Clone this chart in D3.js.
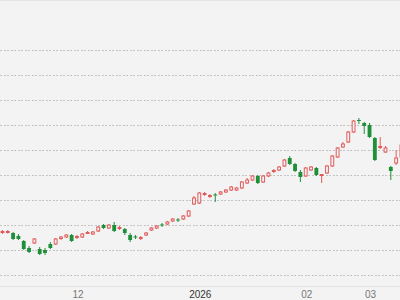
<!DOCTYPE html>
<html>
<head>
<meta charset="UTF-8"/>
<script src="https://d3js.org/d3.v7.min.js"></script>
<style>
  html, body { margin: 0; padding: 0; background: #f3f3f3; }
  svg { display: block; font-family: "Noto Sans", "DejaVu Sans", sans-serif; }
  .grid line { stroke: #c4c4c4; stroke-dasharray: 2,1.5; shape-rendering: crispEdges; }
  .xaxis text { fill: #777; font-size: 10px; }
  .xaxis text.year { fill: #333; }
</style>
</head>
<body>
<script>
  // daily candles, oldest first (price units)
  var opens  = [11.70,11.70,11.68,11.56,11.36,11.08,11.28,11.04,11.00,11.24,11.24,11.46,11.52,11.60,11.50,11.52,11.66,11.64,11.76,12.00,
                11.88,12.00,11.86,11.84,11.60,11.54,11.46,11.60,11.80,11.88,12.02,12.04,12.16,12.22,12.24,12.36,12.84,12.88,13.22,13.14,
                13.22,13.24,13.32,13.40,13.40,13.48,13.68,13.80,13.96,13.72,13.96,14.14,14.20,14.36,14.68,14.44,14.12,13.96,14.20,14.28,
                13.98,14.08,14.36,14.72,15.12,15.32,15.72,16.20,16.08,16.00,15.48,15.10,14.92,14.32,14.48,14.72];
  var highs  = [11.80,11.80,11.72,11.64,11.40,11.16,11.48,11.12,11.08,11.32,11.48,11.56,11.64,11.64,11.60,11.68,11.76,11.76,11.96,12.04,
                12.04,12.12,11.96,11.88,11.68,11.60,11.56,11.72,11.92,12.00,12.08,12.16,12.28,12.28,12.40,12.60,13.16,13.32,13.32,13.24,
                13.28,13.36,13.44,13.56,13.52,13.76,13.88,14.00,14.00,14.00,14.12,14.24,14.36,14.64,14.76,14.48,14.20,14.32,14.36,14.32,
                14.02,14.40,14.80,15.12,15.32,15.76,16.20,16.28,16.12,16.08,15.52,15.52,15.16,14.36,15.00,15.40];
  var lows   = [11.64,11.66,11.40,11.40,11.00,10.88,11.24,10.80,10.80,11.04,11.20,11.40,11.48,11.32,11.44,11.48,11.64,11.60,11.72,11.84,
                11.84,11.72,11.80,11.60,11.32,11.44,11.40,11.56,11.76,11.84,11.92,12.00,12.12,12.12,12.20,12.32,12.80,12.84,13.16,13.08,
                12.92,13.20,13.28,13.36,13.36,13.44,13.64,13.76,13.64,13.68,13.92,14.08,14.16,14.32,14.40,14.12,13.72,13.92,14.16,13.96,
                13.68,14.04,14.32,14.68,15.08,15.28,15.68,16.04,15.64,15.48,14.56,15.04,14.88,13.80,14.40,14.68];
  var closes = [11.74,11.74,11.44,11.44,11.04,10.92,11.44,10.84,10.88,11.08,11.44,11.52,11.60,11.36,11.54,11.64,11.70,11.72,11.92,11.88,
                12.00,11.76,11.90,11.68,11.40,11.50,11.50,11.68,11.88,11.96,11.98,12.12,12.24,12.18,12.36,12.56,13.08,13.28,13.26,13.18,
                13.18,13.32,13.40,13.52,13.48,13.72,13.80,13.96,13.68,13.96,14.08,14.18,14.32,14.60,14.44,14.16,13.92,14.28,14.32,14.00,
                14.02,14.36,14.76,15.08,15.24,15.72,16.16,16.16,15.96,15.52,14.60,15.14,15.08,14.16,14.68,15.20];

  // month labels sit on the first trading day of each month
  var tickIndex = [14, 37, 57, 69];
  var tickLabels = ["12", "2026", "02", "03"];
  var gridValues = [10, 11, 12, 13, 14, 15, 16, 17, 18, 19];

  var width = 400, height = 300;
  var upColor = "#e25b5b", downColor = "#1f8f3a";

  var candles = opens.map(function(o, i) {
    return {i: i, open: o, high: highs[i], low: lows[i], close: closes[i]};
  });

  var svg = d3.select("body").append("svg")
    .attr("width", width)
    .attr("height", height);

  var x = d3.scaleBand()
    .domain(d3.range(candles.length))
    .range([-0.2, -0.2 + candles.length * 5.32])
    .paddingInner(0.28)
    .paddingOuter(0.14);

  var y = d3.scaleLinear()
    .domain([9.5, 21])
    .range([287.5, 0]);

  svg.append("line")
    .attr("x1", 0).attr("x2", width)
    .attr("y1", 0.5).attr("y2", 0.5)
    .attr("stroke", "#e4e4e4");

  svg.append("g")
    .attr("class", "grid")
    .selectAll("line")
    .data(gridValues)
    .enter().append("line")
    .attr("x1", 0)
    .attr("x2", width)
    .attr("y1", function(d) { return Math.round(y(d)) + 0.5; })
    .attr("y2", function(d) { return Math.round(y(d)) + 0.5; });

  var c = svg.append("g").selectAll("g")
    .data(candles)
    .enter().append("g")
    .attr("transform", function(d) { return "translate(" + x(d.i) + ",0)"; });

  var bw = x.bandwidth();

  c.append("line")
    .attr("x1", bw / 2).attr("x2", bw / 2)
    .attr("y1", function(d) { return y(d.high); })
    .attr("y2", function(d) { return y(d.low); })
    .attr("stroke", function(d) { return d.close >= d.open ? upColor : downColor; })
    .attr("stroke-width", 1);

  c.append("rect")
    .attr("x", function(d) { return d.close >= d.open ? 0.5 : 0; })
    .attr("width", function(d) { return d.close >= d.open ? bw - 1 : bw; })
    .attr("y", function(d) { return y(Math.max(d.open, d.close)); })
    .attr("height", function(d) { return Math.max(1, Math.abs(y(d.open) - y(d.close))); })
    .attr("fill", function(d) { return d.close >= d.open ? "#f3f3f3" : downColor; })
    .attr("stroke", function(d) { return d.close >= d.open ? upColor : "none"; })
    .attr("stroke-width", 1);

  svg.append("line")
    .attr("x1", 0).attr("x2", width)
    .attr("y1", 286.5).attr("y2", 286.5)
    .attr("stroke", "#e2e2e2");

  var xAxis = d3.axisBottom(x)
    .tickValues(tickIndex)
    .tickFormat(function(d, k) { return tickLabels[k]; })
    .tickSize(0)
    .tickPadding(5);

  var ax = svg.append("g")
    .attr("class", "xaxis")
    .attr("transform", "translate(1,286)")
    .call(xAxis);
  ax.select(".domain").remove();
  ax.selectAll("text")
    .attr("font-family", null)
    .attr("font-size", null)
    .attr("fill", null)
    .classed("year", function(d, k) { return tickLabels[k].length === 4; });
</script>
</body>
</html>
